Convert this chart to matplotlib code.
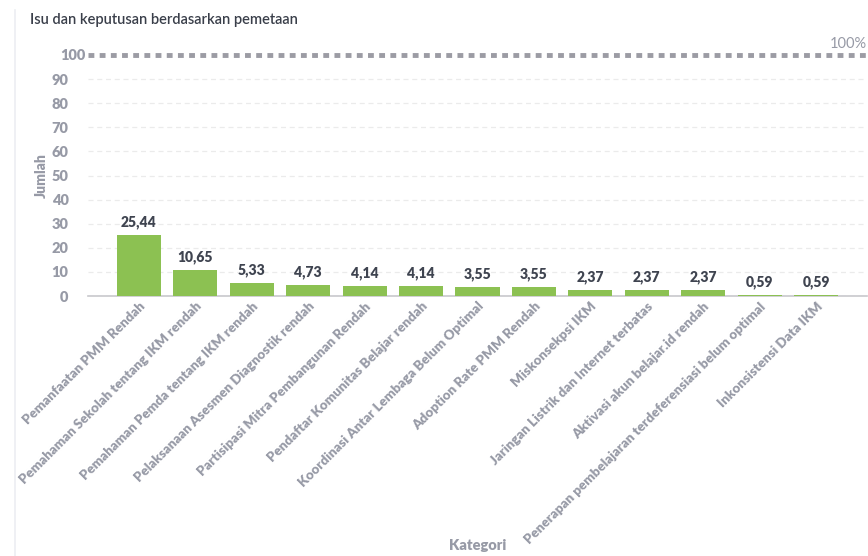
import matplotlib
matplotlib.use('Agg')
import matplotlib.pyplot as plt
from matplotlib.lines import Line2D

plt.rcParams['font.family'] = ['Lato', 'DejaVu Sans']

kategori = [
    'Pemanfaatan PMM Rendah',
    'Pemahaman Sekolah tentang IKM rendah',
    'Pemahaman Pemda tentang IKM rendah',
    'Pelaksanaan Asesmen Diagnostik rendah',
    'Partisipasi Mitra Pembangunan Rendah',
    'Pendaftar Komunitas Belajar rendah',
    'Koordinasi Antar Lembaga Belum Optimal',
    'Adoption Rate PMM Rendah',
    'Miskonsekpsi IKM',
    'Jaringan Listrik dan Internet terbatas',
    'Aktivasi akun belajar.id rendah',
    'Penerapan pembelajaran terdeferensiasi belum optimal',
    'Inkonsistensi Data IKM',
]
jumlah = [25.44, 10.65, 5.33, 4.73, 4.14, 4.14, 3.55, 3.55, 2.37, 2.37, 2.37, 0.59, 0.59]
yticks = [0, 10, 20, 30, 40, 50, 60, 70, 80, 90]
batas = 100

green = '#8cc152'
grey = '#979aa6'
dark = '#3f4450'
BOLD = 800

fig = plt.figure(figsize=(8.68, 5.56), dpi=100)
ax = fig.add_axes([88 / 868, 1 - 296 / 556, (867 - 88) / 868, (296 - 55) / 556])

x = list(range(len(kategori)))
ax.bar(x, jumlah, width=0.78, color=green, zorder=3)
for xi, v in zip(x, jumlah):
    ax.text(xi, v + 2.5, f'{v:.2f}'.replace('.', ','), ha='center', va='bottom',
            fontsize=10, fontweight=BOLD, color=dark)

ax.set_xlim(-0.9, len(kategori) - 0.1)
ax.set_ylim(0, 100)
ax.set_yticks(yticks)
ax.yaxis.grid(True, linestyle=(0, (4, 3)), color='#ebebeb', linewidth=0.9)
ax.set_axisbelow(True)

# garis batas 100%
ax.axhline(batas, color='#9c9ca4', linestyle=(0, (1.2, 1.1)), linewidth=3.5, clip_on=False, zorder=4)
ax.text(len(kategori) - 0.1, batas + 1.5, '100%', ha='right', va='bottom', fontsize=10.5, color=grey)
ax.text(-0.95, batas, '100', ha='right', va='center', fontsize=10.5, fontweight=BOLD, color=grey)

for s in ['top', 'right', 'left']:
    ax.spines[s].set_visible(False)
ax.spines['bottom'].set_color('#c8c8cc')
ax.spines['bottom'].set_linewidth(1.2)

ax.tick_params(axis='y', length=0, pad=14, labelsize=10.5, labelcolor=grey)
ax.tick_params(axis='x', length=0, pad=3)
for lbl in ax.get_yticklabels():
    lbl.set_fontweight(BOLD)

ax.set_xticks(x)
ax.set_xticklabels(kategori, rotation=45, ha='right', rotation_mode='anchor',
                   fontsize=9.6, fontweight=BOLD, color=grey)

ax.set_ylabel('Jumlah', fontsize=10, fontweight=BOLD, color=grey)
ax.yaxis.set_label_coords(-0.052, 0.5)
ax.set_xlabel('Kategori', fontsize=10.5, fontweight=BOLD, color=grey)
ax.xaxis.set_label_coords(0.5, -1.01)

fig.text(30 / 868, 1 - 20 / 556, 'Isu dan keputusan berdasarkan pemetaan', fontsize=10.5,
         color='#3a3f4a', fontweight=600, va='center', ha='left')
fig.add_artist(Line2D([15 / 868, 15 / 868], [0, 1 - 10 / 556], color='#eceef2', linewidth=1.2))

fig.savefig('out.png', dpi=100, facecolor='white')
